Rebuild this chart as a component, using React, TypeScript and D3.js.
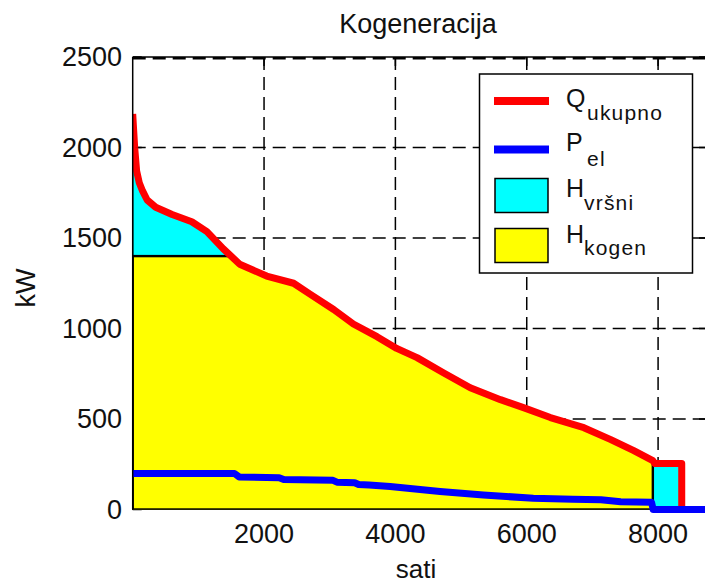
import React from 'react';
import * as d3 from 'd3';

// ukupna toplina (krivulja trajanja), kW po satima
const qHours = [0, 30, 60, 100, 150, 220, 350, 600, 900, 1130, 1380, 1630, 2040, 2450, 2700, 3060, 3360, 3720, 4020, 4330, 4730, 5140, 5600, 5950, 6360, 6870, 7280, 7630, 7920, 7950, 8360, 8360, 8760];
const qValues = [2185, 2000, 1870, 1805, 1760, 1710, 1670, 1630, 1590, 1535, 1440, 1355, 1290, 1250, 1190, 1105, 1025, 955, 890, 839, 756, 673, 607, 563, 508, 452, 386, 325, 270, 254, 254, 0, 0];

// elektricna snaga kogeneracije
const pelHours = [0, 1550, 1620, 2230, 2300, 3050, 3110, 3380, 3440, 3600, 3920, 4680, 5340, 6100, 6700, 7130, 7430, 7900, 7925, 8760];
const pelValues = [199, 199, 180, 176, 166, 161, 151, 148, 138, 135, 127, 99, 80, 62, 57, 54, 43, 40, 0, 0];

const kogenCap = 1400; // kW
const chpEnd = 7920; // sati rada kogeneracije

const xTicks = [2000, 4000, 6000, 8000];
const yTicks = [0, 500, 1000, 1500, 2000, 2500];

const legendItems = [
  { name: 'Q', sub: 'ukupno', kind: 'line', color: '#ff0000' },
  { name: 'P', sub: 'el', kind: 'line', color: '#0000ff' },
  { name: 'H', sub: 'vršni', kind: 'box', color: '#00ffff' },
  { name: 'H', sub: 'kogen', kind: 'box', color: '#ffff00' },
];

const W = 705;
const H = 585;
const font = 'Liberation Sans, Arial, Helvetica, sans-serif';

export default function App() {
  const margin = { top: 57, left: 132.7, bottom: 509.5, right: 708 };

  const x = d3.scaleLinear().domain([0, 8760]).range([margin.left, margin.right]);
  const y = d3.scaleLinear().domain([0, 2500]).range([margin.bottom, margin.top]);

  const q = qHours.map((h, i) => [h, qValues[i]] as [number, number]);
  const pel = pelHours.map((h, i) => [h, pelValues[i]] as [number, number]);

  const area = d3.area<[number, number]>()
    .x(d => x(d[0]))
    .y0(y(0))
    .y1(d => y(d[1]));
  const line = d3.line<[number, number]>()
    .x(d => x(d[0]))
    .y(d => y(d[1]));

  const qArea = area(q) || '';

  return (
    <div style={{ position: 'absolute', left: 0, top: 0 }}>
      <svg width={W} height={H} style={{ display: 'block', background: '#fff' }} fontFamily={font}>
        <defs>
          <clipPath id="qclip">
            <path d={qArea} />
          </clipPath>
          <clipPath id="plotclip">
            <rect x={margin.left} y={0} width={W} height={H} />
          </clipPath>
        </defs>

        {/* grid */}
        {xTicks.map(t => (
          <line key={'gx' + t} x1={x(t)} x2={x(t)} y1={margin.top} y2={margin.bottom}
            stroke="#000" strokeWidth={1.5} strokeDasharray="13,7" />
        ))}
        {yTicks.filter(t => t > 0).map(t => (
          <line key={'gy' + t} x1={margin.left} x2={margin.right} y1={y(t) + (t === 2500 ? 1.2 : 0)} y2={y(t) + (t === 2500 ? 1.2 : 0)}
            stroke="#000" strokeWidth={t === 2500 ? 2.6 : 1.5} strokeDasharray="13,7" />
        ))}
        {/* ticks */}
        {xTicks.map(t => (
          <g key={'tx' + t}>
            <line x1={x(t)} x2={x(t)} y1={margin.top} y2={margin.top + 9} stroke="#000" strokeWidth={1.5} />
            <line x1={x(t)} x2={x(t)} y1={margin.bottom} y2={margin.bottom - 9} stroke="#000" strokeWidth={1.5} />
          </g>
        ))}
        {yTicks.map(t => (
          <g key={'ty' + t}>
            <line x1={margin.left} x2={margin.left + 9} y1={y(t)} y2={y(t)} stroke="#000" strokeWidth={1.5} />
            <line x1={margin.right} x2={margin.right - 9} y1={y(t)} y2={y(t)} stroke="#000" strokeWidth={1.5} />
          </g>
        ))}

        {/* H vrsni: sve ispod Q */}
        <path d={qArea} fill="#00ffff" stroke="#000" strokeWidth={1.2} />
        {/* H kogen: dio ispod kapaciteta kogeneracije */}
        <g clipPath="url(#qclip)">
          <rect x={x(0)} y={y(kogenCap)} width={x(chpEnd) - x(0)} height={y(0) - y(kogenCap)}
            fill="#ffff00" stroke="#000" strokeWidth={2.4} />
        </g>

        <g clipPath="url(#plotclip)">
          <path d={line(q) || ''} fill="none" stroke="#ff0000" strokeWidth={7} strokeLinejoin="round" />
          <path d={line(pel) || ''} fill="none" stroke="#0000ff" strokeWidth={7} strokeLinejoin="round" />
        </g>

        {/* okvir */}
        <line x1={margin.left} x2={margin.right} y1={margin.top} y2={margin.top} stroke="#000" strokeWidth={1.5} />
        <line x1={margin.left} x2={margin.left} y1={margin.top} y2={margin.bottom} stroke="#000" strokeWidth={1.5} />

        {/* labels */}
        {yTicks.map(t => (
          <text key={'ly' + t} x={122} y={y(t)} textAnchor="end" dominantBaseline="central"
            fontSize={27} fill="#111">{t}</text>
        ))}
        {xTicks.map(t => (
          <text key={'lx' + t} x={x(t)} y={543} textAnchor="middle" fontSize={27} fill="#111">{t}</text>
        ))}
        <text x={418} y={33} textAnchor="middle" fontSize={27} fill="#111">Kogeneracija</text>
        <text x={416} y={578} textAnchor="middle" fontSize={26} fill="#111">sati</text>
        <text transform="translate(35,288) rotate(-90)" textAnchor="middle" fontSize={27} fill="#111">kW</text>

        {/* legend */}
        <rect x={479.5} y={74} width={213} height={199} fill="#fff" stroke="#000" strokeWidth={1.5} />
        {legendItems.map((d, i) => {
          const base = [106.7, 150.7, 197.3, 243.3][i];
          const subBase = [120, 166, 210, 255][i];
          const subX = [587, 587, 584, 584][i];
          return (
            <g key={'lg' + i}>
              {d.kind === 'line' ? (
                <line x1={494} x2={549} y1={[101, 149.5][i]} y2={[101, 149.5][i]} stroke={d.color} strokeWidth={8} />
              ) : (
                <rect x={495} y={[178.5, 228.5][i - 2]} width={53} height={34}
                  fill={d.color} stroke="#000" strokeWidth={1.5} />
              )}
              <text x={566} y={base} fontSize={25} fill="#111">{d.name}</text>
              <text x={subX} y={subBase} fontSize={21} letterSpacing={1.2} fill="#111">{d.sub}</text>
            </g>
          );
        })}
      </svg>
    </div>
  );
}
